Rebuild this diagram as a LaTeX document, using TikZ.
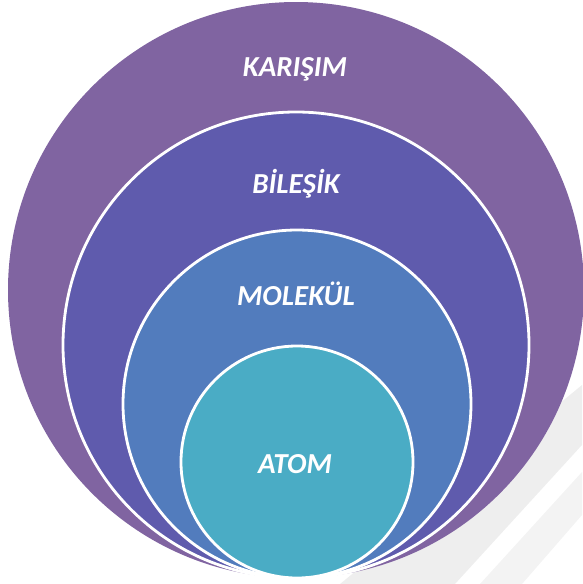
\documentclass[tikz,border=0pt]{standalone}
\usepackage{fontspec}
\setmainfont{Carlito}
\definecolor{cKarisim}{HTML}{8064A1}
\definecolor{cBilesik}{HTML}{5F5BAD}
\definecolor{cMolekul}{HTML}{527CBD}
\definecolor{cAtom}{HTML}{4AACC5}
\definecolor{cShade}{HTML}{EEEEEE}
\definecolor{cShadeLight}{HTML}{F3F3F3}
\begin{document}
\begin{tikzpicture}[x=1pt,y=-1pt,
  disc/.style={circle, inner sep=0pt, draw=white, line width=2.8pt},
  lbl/.style={text=white, inner sep=0pt, anchor=base,
    font=\fontsize{29}{34}\selectfont\bfseries\itshape}]
\useasboundingbox (0,0) rectangle (582,584);
% faint slide reflection in the lower right corner
\fill[cShade] (582,385) -- (582,445) -- (455,584) -- (340,584) -- cycle;
\fill[cShadeLight] (582,472) -- (582,515) -- (522,584) -- (480,584) -- cycle;
% nested sets, all touching at the bottom
\node[disc, draw=none, fill=cKarisim, minimum size=576pt] (karisim) at (296,290) {};
\node[disc, fill=cBilesik, minimum size=466pt] (bilesik) at (296,345) {};
\node[disc, fill=cMolekul, minimum size=348pt] (molekul) at (297,404) {};
\node[disc, fill=cAtom, minimum size=232pt] (atom) at (297,462) {};
% labels
\node[lbl] (tKarisim) at (295,76) {KARIŞIM};
\node[lbl] (tBilesik) at (296,193) {BİLEŞİK};
\node[lbl] (tMolekul) at (296,305) {MOLEKÜL};
\node[lbl] (tAtom) at (295,473) {ATOM};
\end{tikzpicture}
\end{document}
